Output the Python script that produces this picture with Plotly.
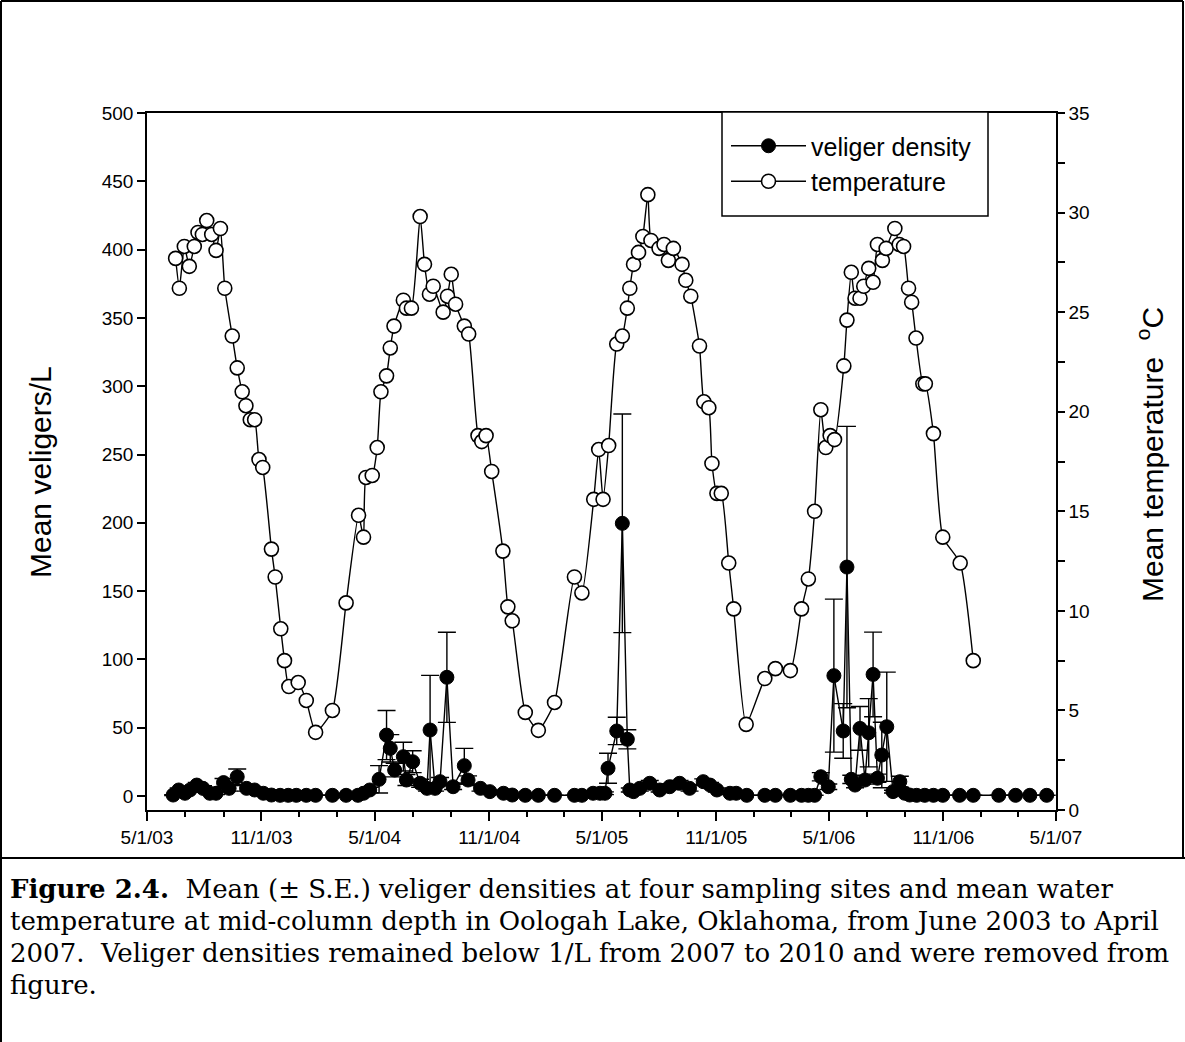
import plotly.graph_objects as go

# ---------------- data ----------------
temp_dates = [
    "2003-06-16", "2003-06-22", "2003-06-30", "2003-07-08", "2003-07-16", "2003-07-22", "2003-07-29",
    "2003-08-05", "2003-08-13", "2003-08-20", "2003-08-27", "2003-09-03", "2003-09-15", "2003-09-23",
    "2003-10-01", "2003-10-07", "2003-10-14", "2003-10-21", "2003-10-28", "2003-11-03", "2003-11-17",
    "2003-11-23", "2003-12-02", "2003-12-08", "2003-12-15", "2003-12-30",
    "2004-01-12", "2004-01-27", "2004-02-23", "2004-03-16", "2004-04-05", "2004-04-13", "2004-04-17",
    "2004-04-27", "2004-05-05", "2004-05-11", "2004-05-20", "2004-05-26", "2004-06-01", "2004-06-16",
    "2004-06-21", "2004-06-29", "2004-07-13", "2004-07-20", "2004-07-28", "2004-08-03", "2004-08-19",
    "2004-08-26", "2004-09-01", "2004-09-08", "2004-09-22", "2004-09-29", "2004-10-14", "2004-10-20",
    "2004-10-27", "2004-11-05", "2004-11-23", "2004-12-01", "2004-12-08", "2004-12-29",
    "2005-01-19", "2005-02-14", "2005-03-18", "2005-03-30", "2005-04-18", "2005-04-26", "2005-05-03",
    "2005-05-12", "2005-05-25", "2005-06-03", "2005-06-11", "2005-06-15", "2005-06-21", "2005-06-29",
    "2005-07-06", "2005-07-14", "2005-07-19", "2005-08-01", "2005-08-09", "2005-08-16", "2005-08-24",
    "2005-09-07", "2005-09-13", "2005-09-21", "2005-10-05", "2005-10-12", "2005-10-20", "2005-10-25",
    "2005-11-02", "2005-11-09", "2005-11-21", "2005-11-29", "2005-12-19",
    "2006-01-18", "2006-02-04", "2006-02-28", "2006-03-18", "2006-03-29", "2006-04-08", "2006-04-18",
    "2006-04-26", "2006-05-03", "2006-05-10", "2006-05-25", "2006-05-30", "2006-06-06", "2006-06-12",
    "2006-06-20", "2006-06-26", "2006-07-04", "2006-07-11", "2006-07-18", "2006-07-26", "2006-08-01",
    "2006-08-15", "2006-08-22", "2006-08-29", "2006-09-06", "2006-09-11", "2006-09-18", "2006-09-29",
    "2006-10-03", "2006-10-16", "2006-10-31", "2006-11-28", "2006-12-19",
]
temp_values = [
    27.7, 26.2, 28.3, 27.3, 28.3, 29.0, 28.9, 29.6, 28.9, 28.1, 29.2, 26.2, 23.8, 22.2,
    21.0, 20.3, 19.6, 19.6, 17.6, 17.2, 13.1, 11.7, 9.1, 7.5, 6.2, 6.4,
    5.5, 3.9, 5.0, 10.4, 14.8, 13.7, 16.7, 16.8, 18.2, 21.0, 21.8, 23.2, 24.3, 25.6,
    25.2, 25.2, 29.8, 27.4, 25.9, 26.3, 25.0, 25.8, 26.9, 25.4, 24.3, 23.9, 18.8, 18.5,
    18.8, 17.0, 13.0, 10.2, 9.5, 4.9,
    4.0, 5.4, 11.7, 10.9, 15.6, 18.1, 15.6, 18.3, 23.4, 23.8, 25.2, 26.2, 27.4, 28.0,
    28.8, 30.9, 28.6, 28.2, 28.4, 27.6, 28.2, 27.4, 26.6, 25.8, 23.3, 20.5, 20.2, 17.4,
    15.9, 15.9, 12.4, 10.1, 4.3,
    6.6, 7.1, 7.0, 10.1, 11.6, 15.0, 20.1, 18.2, 18.8, 18.6, 22.3, 24.6, 27.0, 25.7,
    25.7, 26.3, 27.2, 26.5, 28.4, 27.6, 28.2, 29.2, 28.4, 28.3, 26.2, 25.5, 23.7, 21.4,
    21.4, 18.9, 13.7, 12.4, 7.5,
]

veliger_dates = [
    "2003-06-12", "2003-06-21", "2003-07-01", "2003-07-09", "2003-07-20", "2003-07-30", "2003-08-10",
    "2003-08-20", "2003-09-01", "2003-09-10", "2003-09-23", "2003-10-08", "2003-10-21", "2003-11-04",
    "2003-11-17", "2003-12-01", "2003-12-14", "2003-12-27",
    "2004-01-12", "2004-01-27", "2004-02-23", "2004-03-16", "2004-04-04", "2004-04-13", "2004-04-23",
    "2004-05-08", "2004-05-20", "2004-05-26", "2004-06-02", "2004-06-16", "2004-06-21", "2004-07-01",
    "2004-07-13", "2004-07-24", "2004-07-29", "2004-08-06", "2004-08-14", "2004-08-25", "2004-09-04",
    "2004-09-22", "2004-09-28", "2004-10-18", "2004-11-02", "2004-11-24", "2004-12-08", "2004-12-29",
    "2005-01-19", "2005-02-14", "2005-03-18", "2005-03-30", "2005-04-17", "2005-04-28", "2005-05-06",
    "2005-05-11", "2005-05-25", "2005-06-03", "2005-06-11", "2005-06-15", "2005-06-21", "2005-07-01",
    "2005-07-17", "2005-08-02", "2005-08-18", "2005-09-03", "2005-09-19", "2005-10-11", "2005-10-22",
    "2005-11-02", "2005-11-23", "2005-12-03", "2005-12-20",
    "2006-01-18", "2006-02-04", "2006-02-28", "2006-03-18", "2006-03-29", "2006-04-08", "2006-04-18",
    "2006-04-30", "2006-05-09", "2006-05-24", "2006-05-30", "2006-06-06", "2006-06-12", "2006-06-20",
    "2006-06-28", "2006-07-04", "2006-07-11", "2006-07-18", "2006-07-25", "2006-08-02", "2006-08-12",
    "2006-08-23", "2006-08-31", "2006-09-08", "2006-09-19", "2006-10-02", "2006-10-16", "2006-10-31",
    "2006-11-27", "2006-12-19",
    "2007-01-29", "2007-02-25", "2007-03-20", "2007-04-16",
]
veliger_values = [
    0.7, 4.4, 2.0, 4.4, 8.0, 5.6, 2.0, 2.0, 9.8, 5.6, 14.1, 5.6, 4.4, 2.0, 0.7, 0.5, 0.5, 0.5,
    0.5, 0.5, 0.5, 0.5, 0.5, 2.0, 4.4, 12.2, 44.6, 34.9, 19.0, 28.8, 11.7, 25.1, 9.3, 5.6,
    48.3, 5.6, 10.5, 86.9, 6.8, 22.2, 11.7, 5.6, 3.2, 2.0, 0.7, 0.5,
    0.5, 0.5, 0.5, 0.5, 2.0, 2.0, 2.0, 20.3, 47.6, 199.6, 41.5, 4.4, 3.2, 5.6, 9.3, 4.4,
    6.8, 9.3, 5.6, 10.5, 8.0, 4.4, 2.0, 2.0, 0.5,
    0.5, 0.5, 0.5, 0.5, 0.5, 0.5, 14.1, 6.8, 88.1, 47.6, 167.6, 12.2, 8.0, 49.5, 11.7, 46.3,
    89.0, 13.0, 30.0, 50.7, 3.2, 10.5, 2.0, 0.7, 0.5, 0.5, 0.5, 0.5, 0.5, 0.5,
    0.5, 0.5, 0.5, 0.5,
]
veliger_se = [
    0.3, 1.5, 1.0, 1.5, 2.0, 2.0, 1.0, 1.0, 3.0, 2.0, 5.7, 2.0, 1.5, 1.0, 0.3, 0.0, 0.0, 0.0,
    0.0, 0.0, 0.0, 0.0, 0.0, 1.0, 2.0, 10.0, 18.0, 10.0, 5.0, 10.5, 4.0, 8.0, 3.0, 2.0,
    40.0, 2.0, 3.0, 33.0, 2.0, 12.7, 3.0, 2.0, 1.0, 1.0, 0.3, 0.0,
    0.0, 0.0, 0.0, 0.0, 1.0, 1.0, 1.0, 11.0, 10.0, 80.0, 7.0, 1.5, 1.0, 2.0, 2.0, 1.5,
    2.0, 2.0, 2.0, 2.0, 2.0, 1.5, 1.0, 1.0, 0.0,
    0.0, 0.0, 0.0, 0.0, 0.0, 0.0, 3.0, 2.0, 56.0, 20.0, 103.0, 3.0, 2.0, 16.0, 3.0, 25.0,
    31.0, 3.0, 24.0, 40.0, 1.0, 4.0, 1.0, 0.3, 0.0, 0.0, 0.0, 0.0, 0.0, 0.0,
    0.0, 0.0, 0.0, 0.0,
]

x_range = ["2003-05-01", "2007-05-01"]
veliger_range = [-10.25, 500]
temp_range = [0, 35]

left_title = "Mean veligers/L"
right_title = "Mean temperature \u00a0<sup>o</sup>C"

caption_lines = [
    "<b>Figure 2.4.</b>\u00a0 Mean (± S.E.) veliger densities at four sampling sites and mean water",
    "temperature at mid-column depth in Oologah Lake, Oklahoma, from June 2003 to April",
    "2007.\u00a0 Veliger densities remained below 1/L from 2007 to 2010 and were removed from",
    "figure.",
]

# ---------------- layout geometry (pixels) ----------------
W, H = 1185, 1042
L, R, T, B = 147, 1056, 113, 810


def px(x):
    return (x - L) / (R - L)


def py(y):
    return (B - y) / (B - T)


SANS = "Liberation Sans, Arial, sans-serif"
SERIF = "DejaVu Serif, Liberation Serif, serif"

fig = go.Figure()

fig.add_trace(go.Scatter(
    x=veliger_dates, y=veliger_values, name="veliger density",
    mode="lines+markers", yaxis="y",
    line=dict(color="black", width=1.4),
    marker=dict(symbol="circle", size=14, color="black", line=dict(color="black", width=1)),
    error_y=dict(type="data", array=veliger_se, symmetric=True, color="black", thickness=1.4, width=9),
))

fig.add_trace(go.Scatter(
    x=temp_dates, y=temp_values, name="temperature",
    mode="lines+markers", yaxis="y2",
    line=dict(color="black", width=1.4, shape="spline", smoothing=0.5),
    marker=dict(symbol="circle", size=14, color="white", line=dict(color="black", width=1.6)),
))

axis_common = dict(
    showline=True, linecolor="black", linewidth=1.5,
    ticks="outside", tickcolor="black", tickwidth=1.5,
    showgrid=False, zeroline=False,
    tickfont=dict(family=SANS, size=19, color="black"),
)

fig.update_layout(
    width=W, height=H,
    margin=dict(l=L, r=W - R, t=T, b=H - B, autoexpand=False),
    paper_bgcolor="white", plot_bgcolor="white",
    font=dict(family=SANS, color="black"),
    xaxis=dict(
        type="date", range=x_range, tick0="2003-05-01", dtick="M6",
        tickformat="%-m/%-d/%y", ticklen=9, mirror=True,
        minor=dict(dtick="M2", tick0="2003-05-01", ticks="outside", ticklen=5,
                   tickwidth=1.5, tickcolor="black", showgrid=False),
        **axis_common,
    ),
    yaxis=dict(
        range=veliger_range, tick0=0, dtick=50, ticklen=8,
        **axis_common,
    ),
    yaxis2=dict(
        overlaying="y", side="right", range=temp_range, tick0=0, dtick=5, ticklen=7,
        minor=dict(dtick=2.5, tick0=0, ticks="outside", ticklen=7, tickwidth=1.5,
                   tickcolor="black", showgrid=False),
        **axis_common,
    ),
    showlegend=True,
    legend=dict(
        x=px(726), y=py(123), xanchor="left", yanchor="top",
        bgcolor="rgba(0,0,0,0)", borderwidth=0,
        font=dict(family=SANS, size=25, color="black"),
        itemwidth=75,
    ),
)

# axis titles
fig.add_annotation(text=left_title, xref="paper", yref="paper", x=px(40), y=py(472),
                   xanchor="center", yanchor="middle", textangle=-90, showarrow=False,
                   font=dict(family=SANS, size=30, color="black"))
fig.add_annotation(text=right_title, xref="paper", yref="paper", x=px(1150), y=py(455),
                   xanchor="center", yanchor="middle", textangle=-90, showarrow=False,
                   font=dict(family=SANS, size=30, color="black"))

# legend frame
fig.add_shape(type="rect", xref="paper", yref="paper",
              x0=px(722), y0=py(112), x1=px(988), y1=py(216),
              line=dict(color="black", width=1.5), fillcolor="white", layer="above")

# outer frame and caption separator
frame_lines = [
    (1, 1, 1183, 1),
    (1, 1, 1, 1042),
    (1183, 1, 1183, 858),
    (1, 858, 1185, 858),
]
for x0, y0, x1, y1 in frame_lines:
    fig.add_shape(type="line", xref="paper", yref="paper",
                  x0=px(x0), y0=py(y0), x1=px(x1), y1=py(y1),
                  line=dict(color="black", width=2))

caption_y = [889, 921, 953, 985]
for text, yc in zip(caption_lines, caption_y):
    fig.add_annotation(
        text=text, xref="paper", yref="paper", x=px(8), y=py(yc),
        xanchor="left", yanchor="middle", showarrow=False, align="left",
        font=dict(family=SERIF, size=26, color="black"),
    )

fig.write_html("out.html")
